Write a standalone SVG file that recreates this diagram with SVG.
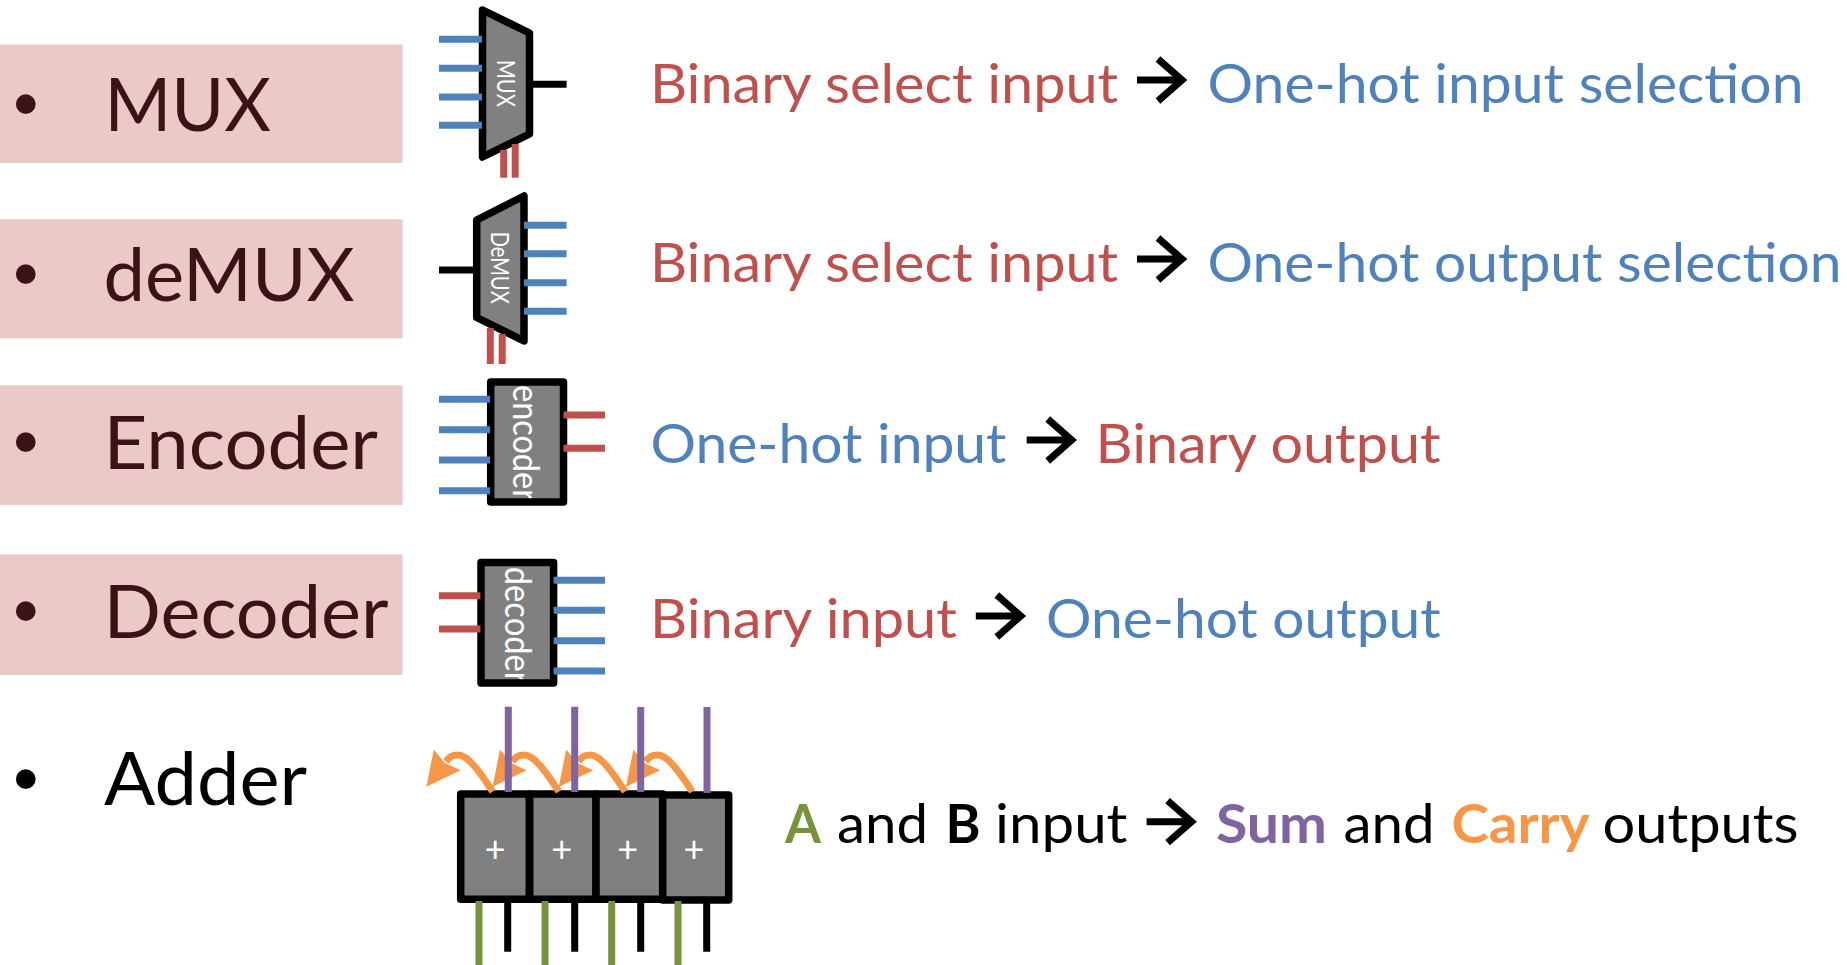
<svg xmlns="http://www.w3.org/2000/svg" xmlns:xlink="http://www.w3.org/1999/xlink" width="1847" height="965" viewBox="0 0 1847 965">
<style>
text{font-family:"Lato","Carlito","Liberation Sans",sans-serif}
.band{fill:#EBC9C9}
.lab{font-size:73px;fill:#3B1316}
.bul{font-family:"Liberation Sans",sans-serif;font-size:73px;text-anchor:middle;fill:#3B1316}
.k{fill:#000}
.desc{font-size:54px}
.r{fill:#C0504D}.b{fill:#4F81BD}.p{fill:#8064A2}.o{fill:#F79646}.g{fill:#77933C}
.bd{font-weight:700}
.body{fill:#808080}
.edge{fill:none;stroke:#000;stroke-width:7.5;stroke-linejoin:round}
.in{fill:#fff}
.s1{font-size:25px}.s2{font-size:36px}
.plus{font-size:36px;text-anchor:middle;fill:#fff}
.wb,.wr,.wk,.wp,.wg{fill:none;stroke-width:7}
.wb{stroke:#4F81BD}.wr{stroke:#C0504D}.wk{stroke:#000}.wp{stroke:#8064A2}.wg{stroke:#77933C}
.carry{fill:none;stroke:#F79646;stroke-width:7;marker-end:url(#head)}
.to{fill:none;stroke:#000;stroke-width:7;stroke-linejoin:miter;stroke-miterlimit:8}
</style>
<defs>
<marker id="head" markerUnits="userSpaceOnUse" markerWidth="36" markerHeight="36" refX="2" refY="18" orient="auto" viewBox="0 0 36 36"><path d="M0,1 L34,18 L0,35 L4,18 Z" fill="#F79646"/></marker>
<path id="to" class="to" d="M0,0 H46 M21,-21 L45,0 L21,21"/>
</defs>

<g id="labels">
<g id="label-mux"><rect class="band" x="0" y="44.5" width="402.5" height="118.5"/><text class="bul" x="25.7" y="127.5">•</text><text class="lab" x="104.5" y="130.7" textLength="166.5" lengthAdjust="spacingAndGlyphs">MUX</text></g>
<g id="label-demux"><rect class="band" x="0" y="219.3" width="402.5" height="119"/><text class="bul" x="25.7" y="298">•</text><text class="lab" x="103.5" y="301" textLength="251" lengthAdjust="spacingAndGlyphs">deMUX</text></g>
<g id="label-encoder"><rect class="band" x="0" y="385.3" width="402.5" height="119.7"/><text class="bul" x="25.7" y="465.5">•</text><text class="lab" x="103.5" y="468.7" textLength="274.5" lengthAdjust="spacingAndGlyphs">Encoder</text></g>
<g id="label-decoder"><rect class="band" x="0" y="554.3" width="402.5" height="120.7"/><text class="bul" x="25.7" y="634.5">•</text><text class="lab" x="103.5" y="637.7" textLength="285" lengthAdjust="spacingAndGlyphs">Decoder</text></g>
<g id="label-adder"><text class="bul k" style="fill:#000" x="25.7" y="802.5">•</text><text class="lab k" style="fill:#000" x="104" y="805.3" textLength="203" lengthAdjust="spacingAndGlyphs">Adder</text></g>
</g>

<g id="mux"><path class="body" d="M482.5,10 L529.5,33 V134 L482.5,157 Z"/><text class="in s1" transform="translate(496.5 60) rotate(90)" textLength="47" lengthAdjust="spacingAndGlyphs">MUX</text><path class="edge" d="M482.5,10 L529.5,33 V134 L482.5,157 Z"/></g>
<g id="demux"><path class="body" d="M476.7,220 L524,196 V341 L476.7,317.5 Z"/><text class="in s1" transform="translate(490.5 231.7) rotate(90)" textLength="72" lengthAdjust="spacingAndGlyphs">DeMUX</text><path class="edge" d="M476.7,220 L524,196 V341 L476.7,317.5 Z"/></g>
<g id="encoder"><rect class="body" x="490.7" y="382" width="72.8" height="120"/><text class="in s2" transform="translate(513 385) rotate(90)" textLength="116" lengthAdjust="spacingAndGlyphs">encoder</text><rect class="edge" x="490.7" y="382" width="72.8" height="120"/></g>
<g id="decoder"><rect class="body" x="481" y="562.5" width="72.6" height="120.5"/><text class="in s2" transform="translate(505.3 566.7) rotate(90)" textLength="117" lengthAdjust="spacingAndGlyphs">decoder</text><rect class="edge" x="481" y="562.5" width="72.6" height="120.5"/></g>
<g id="adder-0"><rect class="body edge" style="fill:#808080" x="460.7" y="794" width="68.6" height="105.3"/><text class="plus" x="495.3" y="862">+</text></g>
<g id="adder-1"><rect class="body edge" style="fill:#808080" x="529.7" y="794" width="66.3" height="105.3"/><text class="plus" x="561.7" y="862">+</text></g>
<g id="adder-2"><rect class="body edge" style="fill:#808080" x="596" y="794" width="66.7" height="105.3"/><text class="plus" x="627.7" y="862">+</text></g>
<g id="adder-3"><rect class="body edge" style="fill:#808080" x="662.7" y="795" width="66" height="105"/><text class="plus" x="694" y="862">+</text></g>

<g id="connectors">
<path class="wb" d="M439,39.3H482M439,68.3H482M439,97H482M439,125.3H482"/>
<path class="wk" d="M532,84.3H566.6"/>
<path class="wr" d="M503.7,150V177.7M515.2,144V177.7"/>
<path class="wb" d="M524,225.3H566.6M524,253.7H566.6M524,282.7H566.6M524,311.3H566.6"/>
<path class="wk" d="M439,270H474"/>
<path class="wr" d="M490.3,328V364M502.2,334V364"/>
<path class="wb" d="M439,399.3H490M439,429.7H490M439,460H490M439,490.7H490"/>
<path class="wr" d="M563.5,415H605M563.5,448.3H605"/>
<path class="wr" d="M439,595.7H480.4M439,629H480.4"/>
<path class="wb" d="M553.6,580.3H605M553.6,610.3H605M553.6,640.7H605M553.6,671H605"/>
<path id="carry-0" class="carry" d="M492.7,791.7 C480,772 468,755 458,755 C452,755 449.5,757 446,761.5"/>
<path id="carry-1" class="carry" d="M558.9,791.7 C546.2,772 534.2,755 524.2,755 C518.2,755 515.7,757 512.2,761.5"/>
<path id="carry-2" class="carry" d="M625.1,791.7 C612.4,772 600.4,755 590.4,755 C584.4,755 581.9,757 578.4,761.5"/>
<path id="carry-3" class="carry" d="M692.3,791.7 C679.6,772 667.6,755 657.6,755 C651.6,755 649.1,757 645.6,761.5"/>
<path class="wp" d="M508.3,706.7V792M574.7,706.7V792M640.7,707V792M707,707V793"/>
<path class="wg" d="M479,901V965M545,901V965M611.7,901V965M678,901V965"/>
<path class="wk" d="M507.7,901V951.7M574.7,901V951.7M640.7,901V951.7M706.7,901V951.7"/>
</g>

<g id="descriptions">
<text class="desc r" x="650" y="102.7" textLength="468.2" lengthAdjust="spacingAndGlyphs">Binary select input</text>
<use xlink:href="#to" href="#to" x="1137" y="80"/>
<text class="desc b" x="1207.5" y="102.7" textLength="596" lengthAdjust="spacingAndGlyphs">One-hot input selection</text>
<text class="desc r" x="650" y="281.7" textLength="468.2" lengthAdjust="spacingAndGlyphs">Binary select input</text>
<use xlink:href="#to" href="#to" x="1137" y="259"/>
<text class="desc b" x="1207.5" y="281.7" textLength="634" lengthAdjust="spacingAndGlyphs">One-hot output selection</text>
<text class="desc b" x="650.5" y="462.7" textLength="356" lengthAdjust="spacingAndGlyphs">One-hot input</text>
<use xlink:href="#to" href="#to" x="1026.7" y="440"/>
<text class="desc r" x="1095.6" y="462.7" textLength="345" lengthAdjust="spacingAndGlyphs">Binary output</text>
<text class="desc r" x="650" y="638.3" textLength="307" lengthAdjust="spacingAndGlyphs">Binary input</text>
<use xlink:href="#to" href="#to" x="975.8" y="616"/>
<text class="desc b" x="1046" y="638.3" textLength="394.7" lengthAdjust="spacingAndGlyphs">One-hot output</text>
<text class="desc bd g" x="785" y="843.3" textLength="36" lengthAdjust="spacingAndGlyphs">A</text>
<text class="desc k" x="837" y="843.3" textLength="91" lengthAdjust="spacingAndGlyphs">and</text>
<text class="desc bd k" x="945.5" y="843.3" textLength="35" lengthAdjust="spacingAndGlyphs">B</text>
<text class="desc k" x="995" y="843.3" textLength="132.5" lengthAdjust="spacingAndGlyphs">input</text>
<use xlink:href="#to" href="#to" x="1146.6" y="821.7"/>
<text class="desc bd p" x="1216" y="843.3" textLength="111" lengthAdjust="spacingAndGlyphs">Sum</text>
<text class="desc k" x="1343.5" y="843.3" textLength="91" lengthAdjust="spacingAndGlyphs">and</text>
<text class="desc bd o" x="1451.5" y="843.3" textLength="138" lengthAdjust="spacingAndGlyphs">Carry</text>
<text class="desc k" x="1602.5" y="843.3" textLength="196" lengthAdjust="spacingAndGlyphs">outputs</text>
</g>
</svg>
